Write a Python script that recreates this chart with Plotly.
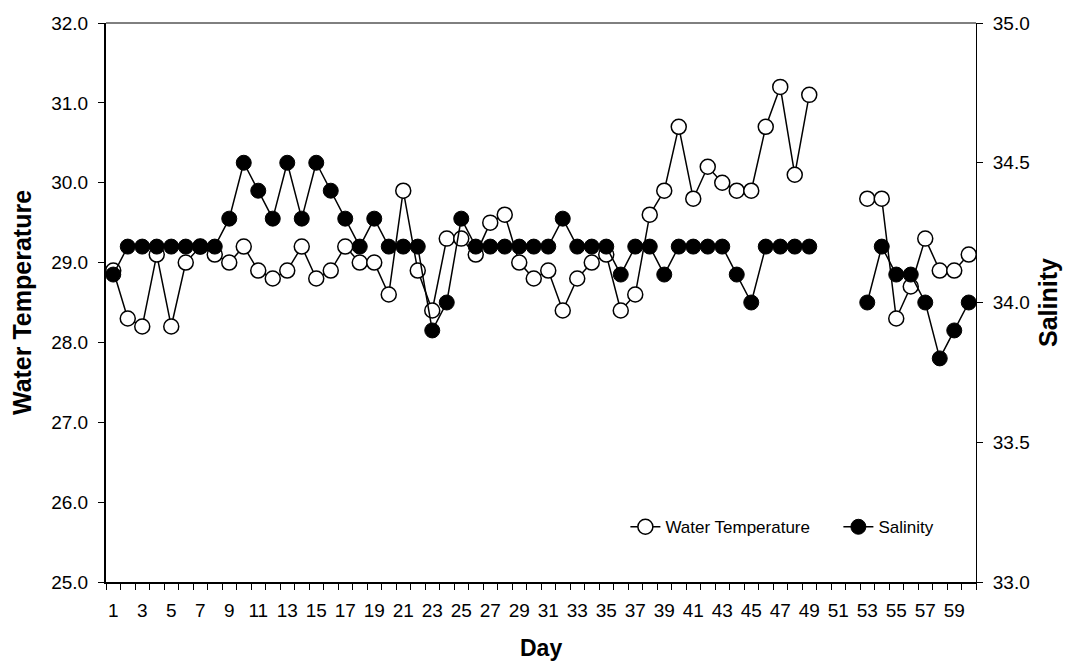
import plotly.graph_objects as go

days = list(range(1, 61))
water_temperature = [
    28.9, 28.3, 28.2, 29.1, 28.2, 29.0, 29.2, 29.1, 29.0, 29.2,
    28.9, 28.8, 28.9, 29.2, 28.8, 28.9, 29.2, 29.0, 29.0, 28.6,
    29.9, 28.9, 28.4, 29.3, 29.3, 29.1, 29.5, 29.6, 29.0, 28.8,
    28.9, 28.4, 28.8, 29.0, 29.1, 28.4, 28.6, 29.6, 29.9, 30.7,
    29.8, 30.2, 30.0, 29.9, 29.9, 30.7, 31.2, 30.1, 31.1, None,
    None, None, 29.8, 29.8, 28.3, 28.7, 29.3, 28.9, 28.9, 29.1,
]
salinity = [
    34.1, 34.2, 34.2, 34.2, 34.2, 34.2, 34.2, 34.2, 34.3, 34.5,
    34.4, 34.3, 34.5, 34.3, 34.5, 34.4, 34.3, 34.2, 34.3, 34.2,
    34.2, 34.2, 33.9, 34.0, 34.3, 34.2, 34.2, 34.2, 34.2, 34.2,
    34.2, 34.3, 34.2, 34.2, 34.2, 34.1, 34.2, 34.2, 34.1, 34.2,
    34.2, 34.2, 34.2, 34.1, 34.0, 34.2, 34.2, 34.2, 34.2, None,
    None, None, 34.0, 34.2, 34.1, 34.1, 34.0, 33.8, 33.9, 34.0,
]
x_tick_labels = [str(d) for d in range(1, 61, 2)]
temp_ticks = [25.0, 26.0, 27.0, 28.0, 29.0, 30.0, 31.0, 32.0]
sal_ticks = [33.0, 33.5, 34.0, 34.5, 35.0]

FONT = "Liberation Sans, Arial, sans-serif"

fig = go.Figure()
fig.add_trace(go.Scatter(
    x=days, y=water_temperature, name="Water Temperature", mode="lines+markers",
    line=dict(color="black", width=1.5),
    marker=dict(symbol="circle", size=15, color="white", line=dict(color="black", width=1.5)),
    connectgaps=False, yaxis="y",
))
fig.add_trace(go.Scatter(
    x=days, y=salinity, name="Salinity", mode="lines+markers",
    line=dict(color="black", width=1.5),
    marker=dict(symbol="circle", size=15, color="black", line=dict(color="black", width=1)),
    connectgaps=False, yaxis="y2",
))

fig.update_layout(
    width=1067, height=664,
    margin=dict(l=106, r=91, t=23, b=82, autoexpand=False),
    paper_bgcolor="white", plot_bgcolor="white",
    font=dict(family=FONT, size=17, color="black"),
    showlegend=True,
    legend=dict(
        orientation="h", x=0.597, y=0.098, xanchor="left", yanchor="middle",
        bgcolor="rgba(0,0,0,0)", font=dict(size=17), itemwidth=30,
        entrywidth=168, tracegroupgap=0,
    ),
    xaxis=dict(
        range=[0.5, 60.5], tickmode="array",
        tickvals=list(range(1, 61, 2)), ticktext=x_tick_labels,
        ticks="outside", ticklen=10, tickcolor="rgba(0,0,0,0)",
        showline=True, linecolor="black", linewidth=2,
        showgrid=False, zeroline=False, automargin=False,
        tickfont=dict(size=19),
        minor=dict(tickmode="linear", tick0=0.5, dtick=1, ticks="outside",
                   ticklen=6, tickcolor="black", tickwidth=1, showgrid=False),
    ),
    yaxis=dict(
        range=[25, 32], tickmode="array", tickvals=temp_ticks,
        tickformat=".1f", ticks="outside", ticklen=6, tickcolor="black",
        showline=True, linecolor="black", linewidth=2,
        showgrid=False, zeroline=False, tickfont=dict(size=19), automargin=False,
        ticklabelstandoff=6,
        title=dict(text="<b>Water Temperature</b>", font=dict(size=25), standoff=12),
    ),
    yaxis2=dict(
        range=[33, 35], tickmode="array", tickvals=sal_ticks,
        tickformat=".1f", ticks="outside", ticklen=6, tickcolor="black",
        showline=True, linecolor="black", linewidth=1,
        showgrid=False, zeroline=False, tickfont=dict(size=19), automargin=False,
        overlaying="y", side="right", ticklabelstandoff=6,
        title=dict(text="<b>Salinity</b>", font=dict(size=25), standoff=10),
    ),
    annotations=[dict(text="<b>Day</b>", xref="paper", yref="paper", x=0.5, y=-0.118,
                      xanchor="center", yanchor="middle", showarrow=False,
                      font=dict(size=23))],
    shapes=[dict(type="line", xref="paper", yref="paper", x0=0, x1=1, y0=1, y1=1,
                 line=dict(color="black", width=1))],
)

fig.write_html("out.html")
